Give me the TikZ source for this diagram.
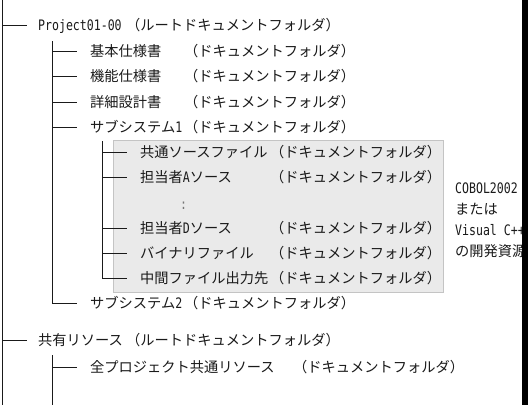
\documentclass[tikz,border=0pt]{standalone}
\usepackage{fontspec}
\setmainfont{Noto Sans CJK JP}
\newfontfamily\hwfont[FakeStretch=0.8]{DejaVu Sans Mono}
\newcommand\hw[1]{{\hwfont\fontsize{14.5}{14}\selectfont #1}}
\definecolor{ink}{HTML}{1A1A1A}
\definecolor{boxfill}{HTML}{EAEAEA}
\definecolor{boxline}{HTML}{C4C4C4}
\tikzset{
  lbl/.style={anchor=west, inner sep=0pt, text height=12bp, text depth=1.4bp,
    font=\fontsize{14.3}{14}\selectfont, text=ink},
  tree/.style={draw=ink, line width=1bp},
  grpbox/.style={fill=boxfill, draw=boxline, line width=1bp},
}
\begin{document}
\begin{tikzpicture}[x=1bp,y=-1bp]
\useasboundingbox (0,0) rectangle (528,405);
\fill[white] (0,0) rectangle (528,405);
% grey group box
\path[grpbox] (113,140) rectangle (443,292);
% trunk coordinates
\coordinate (t0a) at (2,0);
\coordinate (t0b) at (2,405);
\coordinate (t1a) at (52,41);
\coordinate (t2a) at (102,141);
\coordinate (t3a) at (52,355);
\coordinate (t3b) at (52,405);
% level 0
\node[lbl] (p0) at (38,25.5) {\hw{Project01-00}};
\node[lbl] (p0f) at (126,25.5) {（ルートドキュメントフォルダ）};
\node[lbl] (r0) at (38,340) {共有リソース};
\node[lbl] (r0f) at (126,340) {（ルートドキュメントフォルダ）};
% level 1
\node[lbl] (a1) at (90,51) {基本仕様書};
\node[lbl] (a1f) at (184,51) {（ドキュメントフォルダ）};
\node[lbl] (a2) at (90,76.5) {機能仕様書};
\node[lbl] (a2f) at (184,76.5) {（ドキュメントフォルダ）};
\node[lbl] (a3) at (90,102) {詳細設計書};
\node[lbl] (a3f) at (184,102) {（ドキュメントフォルダ）};
\node[lbl] (a4) at (90,127) {サブシステム\hw{1}};
\node[lbl] (a4f) at (184,127) {（ドキュメントフォルダ）};
\node[lbl] (a5) at (90,303) {サブシステム\hw{2}};
\node[lbl] (a5f) at (184,303) {（ドキュメントフォルダ）};
\node[lbl] (b1) at (90,367) {全プロジェクト共通リソース};
\node[lbl] (b1f) at (293,367) {（ドキュメントフォルダ）};
% level 2
\node[lbl] (c1) at (140,152.5) {共通ソースファイル};
\node[lbl] (c1f) at (270,152.5) {（ドキュメントフォルダ）};
\node[lbl] (c2) at (140,177.5) {担当者\hw{A}ソース};
\node[lbl] (c2f) at (270,177.5) {（ドキュメントフォルダ）};
\node[lbl, text=ink!60] (cdots) at (180,204) {\hw{:}};
\node[lbl] (c3) at (140,228) {担当者\hw{D}ソース};
\node[lbl] (c3f) at (270,228) {（ドキュメントフォルダ）};
\node[lbl] (c4) at (140,253) {バイナリファイル};
\node[lbl] (c4f) at (270,253) {（ドキュメントフォルダ）};
\node[lbl] (c5) at (140,278) {中間ファイル出力先};
\node[lbl] (c5f) at (270,278) {（ドキュメントフォルダ）};
% side note
\node[lbl] (n1) at (455,188) {\hw{COBOL2002}};
\node[lbl] (n2) at (455,209) {または};
\node[lbl] (n3) at (455,230) {\hw{Visual C++}};
\node[lbl] (n4) at (455,251) {の開発資源};
% trunks
\draw[tree] (t0a) -- (t0b);
\draw[tree] (t1a) -- (t1a |- a5);
\draw[tree] (t2a) -- (t2a |- c5);
\draw[tree] (t3a) -- (t3b);
% branches
\foreach \n in {p0, r0}{
  \draw[tree] (t0a |- \n) -- ([xshift=-11bp]\n.west);
}
\foreach \n in {a1, a2, a3, a4, a5, b1}{
  \draw[tree] (t1a |- \n) -- ([xshift=-13bp]\n.west);
}
\foreach \n in {c1, c2, c3, c4, c5}{
  \draw[tree] (t2a |- \n) -- ([xshift=-13bp]\n.west);
}
% right edge bar
\fill[black] (522,0) rectangle (528,405);
\end{tikzpicture}
\end{document}
